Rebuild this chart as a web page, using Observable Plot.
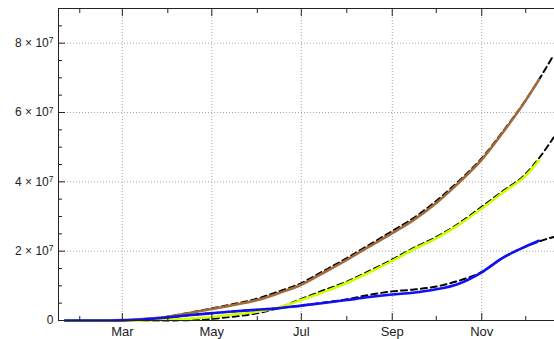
<!DOCTYPE html>
<html>
<head>
<meta charset="utf-8">
<script src="https://cdn.jsdelivr.net/npm/d3@7"></script>
<script src="https://cdn.jsdelivr.net/npm/@observablehq/plot@0.6"></script>
<style>
  html, body { margin: 0; padding: 0; background: #fff; }
  #chart { width: 554px; height: 339px; }
</style>
</head>
<body>
<div id="chart"></div>
<script>
// Observed series (values in millions)
const dates = ["2020-01-22","2020-02-15","2020-03-01","2020-03-15","2020-04-01","2020-04-15","2020-05-01","2020-05-15","2020-06-01","2020-06-15","2020-07-01","2020-07-15","2020-08-01","2020-08-15","2020-09-01","2020-09-15","2020-10-01","2020-10-15","2020-11-01","2020-11-15","2020-12-01","2020-12-10"];
const brown  = [0, 0.02, 0.1, 0.4, 1.1, 2.1, 3.3, 4.4, 5.9, 7.8, 10.3, 13.5, 17.5, 21.0, 25.2, 28.8, 33.9, 39.2, 46.4, 54.0, 63.5, 69.5];
const yellow = [0, 0, 0.02, 0.05, 0.2, 0.5, 1.0, 1.7, 2.5, 3.7, 5.9, 8.0, 10.8, 13.6, 17.2, 20.4, 23.7, 27.2, 32.3, 36.8, 41.8, 46.2];
const blue   = [0, 0.01, 0.05, 0.3, 0.9, 1.5, 2.1, 2.6, 3.1, 3.5, 4.3, 5.0, 5.9, 6.7, 7.5, 8.0, 9.0, 10.4, 13.9, 18.0, 21.4, 23.0];

// Fitted (dashed) series (values in millions)
const fitDates = ["2020-03-15","2020-04-01","2020-04-15","2020-05-01","2020-05-15","2020-06-01","2020-06-15","2020-07-01","2020-07-15","2020-08-01","2020-08-15","2020-09-01","2020-09-15","2020-10-01","2020-10-15","2020-11-01","2020-11-15","2020-12-01","2020-12-10","2020-12-20"];
const brownFit  = [0.4, 1.1, 2.2, 3.5, 4.7, 6.3, 8.3, 10.8, 14.0, 18.0, 21.5, 25.8, 29.4, 34.5, 39.7, 46.8, 54.3, 63.6, 69.5, 76.6];
const yellowFit = [0.0, 0.02, 0.1, 0.5, 1.1, 2.1, 3.6, 6.2, 8.5, 11.2, 14.0, 17.6, 20.8, 24.1, 27.6, 32.8, 37.2, 42.3, 46.8, 52.8];
const blueFit   = [0.2, 0.8, 1.5, 2.1, 2.6, 3.1, 3.6, 4.3, 5.1, 6.1, 7.3, 8.4, 8.9, 9.8, 11.3, 14.0, 18.0, 21.3, 22.8, 24.1];

// Axis ticks
const majorMonths = ["2020-03-01","2020-05-01","2020-07-01","2020-09-01","2020-11-01"];
const minorMonths = ["2020-02-01","2020-04-01","2020-06-01","2020-08-01","2020-10-01","2020-12-01"];
const yMajor = [0, 2e7, 4e7, 6e7, 8e7];
const yMinor = [5e6, 1e7, 1.5e7, 2.5e7, 3e7, 3.5e7, 4.5e7, 5e7, 5.5e7, 6.5e7, 7e7, 7.5e7, 8.5e7];
const xDomain = ["2020-01-17T12:00Z", "2020-12-20T14:00Z"];
const yDomain = [0, 9e7];

const colors = {brown: "#a36a3a", yellow: "#ccff00", blue: "#1010f2"};

const parse = d3.utcParse("%Y-%m-%d");
const toRows = (ds, vs) => ds.map((d, i) => ({date: parse(d), value: vs[i] * 1e6}));
const series = [
  {name: "brown", rows: toRows(dates, brown), fit: toRows(fitDates, brownFit)},
  {name: "yellow", rows: toRows(dates, yellow), fit: toRows(fitDates, yellowFit)},
  {name: "blue", rows: toRows(dates, blue), fit: toRows(fitDates, blueFit)}
];
const major = majorMonths.map(d => parse(d));
const minor = minorMonths.map(d => parse(d));
const xd = xDomain.map(d => new Date(d));

function yFmt(v) {
  if (v === 0) return "0";
  const e = Math.floor(Math.log10(v));
  const m = Math.round(v / Math.pow(10, e));
  return m + " \u00d7 10^" + e;
}

const marks = [
  Plot.gridX(major, {stroke: "#a8a8a8", strokeOpacity: 1, strokeDasharray: "1,2"}),
  Plot.gridY(yMajor.filter(v => v > 0), {stroke: "#a8a8a8", strokeOpacity: 1, strokeDasharray: "1,2"}),
];
for (const s of series) {
  marks.push(Plot.line(s.fit, {x: "date", y: "value", stroke: "#000", strokeWidth: 2, strokeDasharray: "6,4", curve: "monotone-x"}));
}
for (const s of series) {
  marks.push(Plot.line(s.rows, {x: "date", y: "value", stroke: colors[s.name], strokeWidth: 2.6, curve: "monotone-x"}));
}
marks.push(
  // frame (top, left, bottom)
  Plot.ruleY([yDomain[1]], {stroke: "#222", strokeWidth: 1}),
  Plot.ruleY([yDomain[0]], {stroke: "#222", strokeWidth: 1}),
  Plot.ruleX([xd[0]], {stroke: "#222", strokeWidth: 1}),
  // x ticks inward
  Plot.axisX(major, {anchor: "bottom", tickSize: -7, tickPadding: 13, tickFormat: "%b", fontSize: 13, color: "#222", label: null}),
  Plot.axisX(minor, {anchor: "bottom", tickSize: -4, fill: "none", stroke: "#222", label: null}),
  Plot.axisX(major, {anchor: "top", tickSize: -7, fill: "none", stroke: "#222", label: null}),
  Plot.axisX(minor, {anchor: "top", tickSize: -4, fill: "none", stroke: "#222", label: null}),
  // y ticks inward
  Plot.axisY(yMajor, {anchor: "left", tickSize: -7, tickPadding: 12, tickFormat: yFmt, fontSize: 12, color: "#222", label: null}),
  Plot.axisY(yMinor, {anchor: "left", tickSize: -4, fill: "none", stroke: "#222", label: null})
);

const chart = Plot.plot({
  width: 554,
  height: 339,
  marginLeft: 58,
  marginRight: 0,
  marginTop: 8,
  marginBottom: 19,
  style: {fontFamily: "'Liberation Sans', Arial, sans-serif", background: "#fff", overflow: "visible"},
  x: {type: "utc", domain: xd},
  y: {domain: yDomain},
  marks
});

// superscript exponents in y tick labels
chart.querySelectorAll('g[aria-label="y-axis tick label"] text').forEach(t => {
  const s = t.textContent;
  if (s.includes("^")) {
    const [base, exp] = s.split("^");
    t.textContent = "";
    t.appendChild(document.createTextNode(base));
    const ts = document.createElementNS("http://www.w3.org/2000/svg", "tspan");
    ts.setAttribute("dy", "-0.45em");
    ts.setAttribute("font-size", "8.5");
    ts.textContent = exp;
    t.appendChild(ts);
  }
});

document.getElementById("chart").appendChild(chart);
</script>
</body>
</html>
